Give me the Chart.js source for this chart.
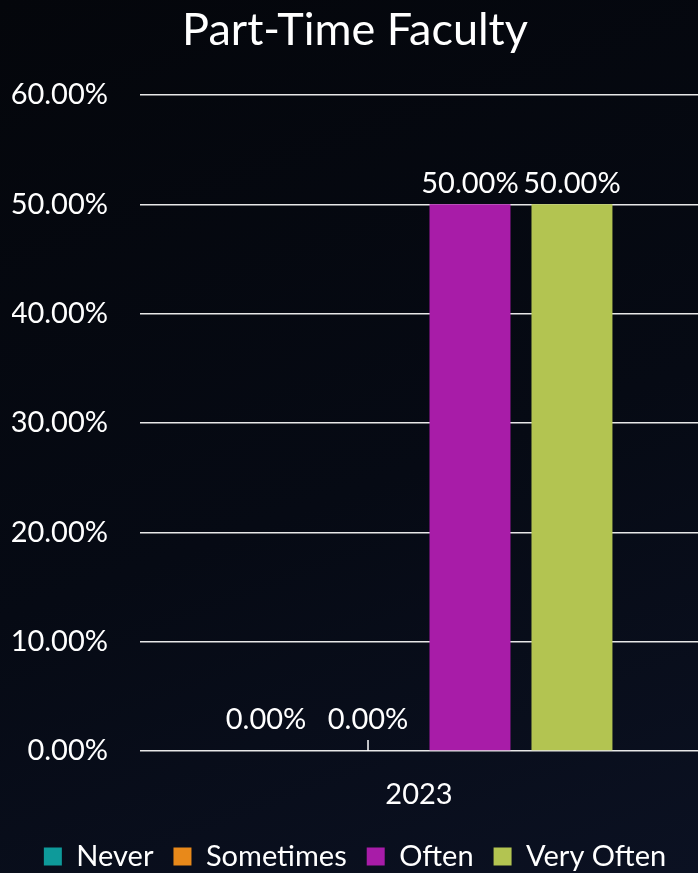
<!DOCTYPE html>
<html>
<head>
<meta charset="utf-8">
<script src="https://cdn.jsdelivr.net/npm/chart.js@4.4.1/dist/chart.umd.min.js"></script>
<style>
    html, body { margin: 0; padding: 0; }
    body {
        width: 698px; height: 873px; overflow: hidden;
        background: linear-gradient(160deg, #04060b 0%, #060a14 55%, #0b1122 100%);
    }
    #wrap { width: 698px; height: 873px; position: relative; }
</style>
</head>
<body>
<div id="wrap"><canvas id="canvas"></canvas></div>
<script>
var categories = ['2023'];
var seriesNames = ['Never', 'Sometimes', 'Often', 'Very Often'];
var seriesValues = [[0], [0], [50], [50]];
var seriesColors = ['#0e9a9a', '#e8891a', '#a81ca8', '#b3c451'];
var yTicks = [0, 10, 20, 30, 40, 50, 60];

var fontName = 'Lato, "Noto Sans", sans-serif';

function pct(v) {
    return v.toFixed(2) + '%';
}

// value labels above each bar, plus the lone axis tick Excel draws
var barLabels = {
    id: 'barLabels',
    afterDatasetsDraw: function(chart) {
        var ctx = chart.ctx;
        ctx.save();
        ctx.font = '29px ' + fontName;
        ctx.fillStyle = '#ffffff';
        ctx.textAlign = 'center';
        ctx.textBaseline = 'middle';
        chart.data.datasets.forEach(function(ds, i) {
            var meta = chart.getDatasetMeta(i);
            meta.data.forEach(function(bar, j) {
                var v = ds.data[j];
                var off = v === 0 ? 31 : 21;
                ctx.fillText(pct(v), bar.x, bar.y - off);
            });
        });
        // small tick at the second bar position
        var tickBar = chart.getDatasetMeta(1).data[0];
        var yBase = chart.scales.y.getPixelForValue(0);
        ctx.strokeStyle = '#ffffff';
        ctx.lineWidth = 1.5;
        ctx.beginPath();
        ctx.moveTo(tickBar.x, yBase);
        ctx.lineTo(tickBar.x, yBase - 11);
        ctx.stroke();
        ctx.restore();
    }
};

var datasets = seriesNames.map(function(name, i) {
    return {
        label: name,
        data: seriesValues[i],
        backgroundColor: seriesColors[i],
        borderWidth: 0,
        barPercentage: 0.794,
        categoryPercentage: 0.731
    };
});

var config = {
    type: 'bar',
    data: { labels: categories, datasets: datasets },
    options: {
        responsive: false,
        animation: false,
        devicePixelRatio: 1,
        layout: { padding: { left: 12, right: 0, top: 3, bottom: -8 } },
        scales: {
            x: {
                grid: { display: false },
                border: { display: false },
                ticks: { color: '#ffffff', font: { size: 29, family: fontName }, padding: 18 },
                afterFit: function(scale) { scale.height = 71; }
            },
            y: {
                min: 0,
                max: 60,
                afterBuildTicks: function(scale) {
                    scale.ticks = yTicks.map(function(v) { return { value: v }; });
                },
                grid: { color: '#e8e8e8', lineWidth: 1.6, drawTicks: false },
                border: { display: false },
                ticks: {
                    color: '#ffffff',
                    font: { size: 29, family: fontName },
                    padding: 32,
                    callback: function(v) { return pct(v); }
                },
                afterFit: function(scale) { scale.width = 128; }
            }
        },
        plugins: {
            title: {
                display: true,
                text: 'Part-Time Faculty',
                color: '#ffffff',
                font: { size: 45, family: fontName, weight: 'normal' },
                padding: { top: 0, bottom: 38 }
            },
            legend: {
                position: 'bottom',
                labels: {
                    color: '#ffffff',
                    font: { size: 29, family: fontName },
                    boxWidth: 18,
                    boxHeight: 18,
                    padding: 20
                }
            },
            tooltip: { enabled: false }
        }
    },
    plugins: [barLabels]
};

window.onload = function() {
    var c = document.getElementById('canvas');
    c.width = 698;
    c.height = 873;
    var ctx = c.getContext('2d');
    window.myBar = new Chart(ctx, config);
};
</script>
</body>
</html>
